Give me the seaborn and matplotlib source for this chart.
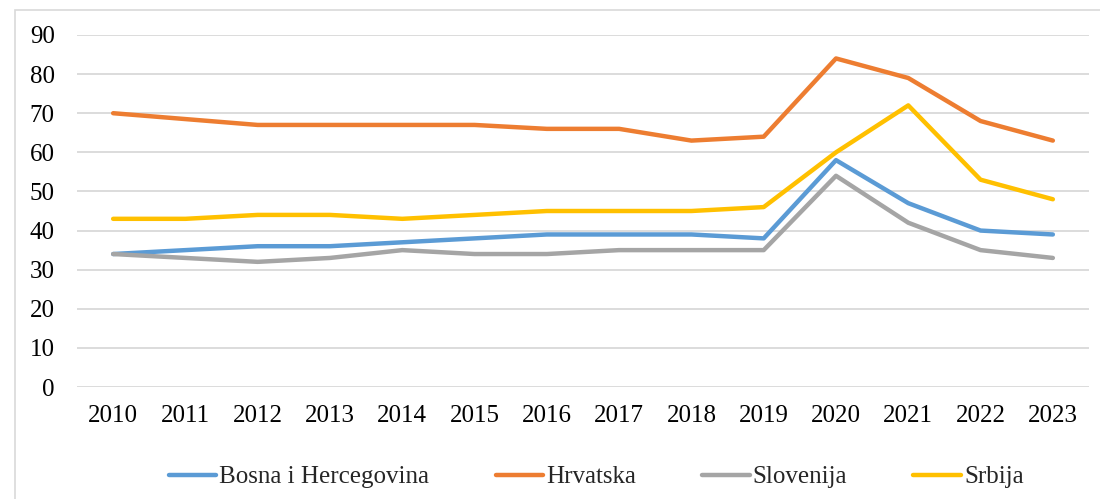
import pandas as pd
import matplotlib
matplotlib.use("Agg")
import matplotlib.pyplot as plt
import seaborn as sns

years = [str(y) for y in range(2010, 2024)]
bih = [34, 35, 36, 36, 37, 38, 39, 39, 39, 38, 58, 47, 40, 39]
hrv = [70, 68.5, 67, 67, 67, 67, 66, 66, 63, 64, 84, 79, 68, 63]
slo = [34, 33, 32, 33, 35, 34, 34, 35, 35, 35, 54, 42, 35, 33]
srb = [43, 43, 44, 44, 43, 44, 45, 45, 45, 46, 60, 72, 53, 48]
countries = ["Bosna i Hercegovina", "Hrvatska", "Slovenija", "Srbija"]
colors = ["#5B9BD5", "#ED7D31", "#A5A5A5", "#FFC000"]

df = pd.DataFrame({"Godina": years * 4,
                   "Vrijednost": bih + hrv + slo + srb,
                   "Zemlja": [c for c in countries for _ in years]})

sns.set_style("white")
plt.rcParams["font.family"] = ["Liberation Serif", "DejaVu Serif"]

fig = plt.figure(figsize=(11, 4.99), dpi=100)
ax = fig.add_axes([0.07, 0.2244, 0.92, 0.7055])

sns.lineplot(data=df, x="Godina", y="Vrijednost", hue="Zemlja",
             palette=colors, linewidth=3.2, sort=False, ax=ax)

ax.set_ylim(0, 90)
ax.set_xlim(-0.5, len(years) - 0.5)
ax.set_yticks(range(0, 91, 10))
ax.yaxis.grid(True, color="#D9D9D9", linewidth=1.3)
ax.set_axisbelow(True)
for s in ax.spines.values():
    s.set_visible(False)
ax.tick_params(axis="both", labelsize=18, length=0, colors="#000000")
ax.tick_params(axis="x", pad=13)
ax.tick_params(axis="y", pad=16)
ax.set_xlabel("")
ax.set_ylabel("")

ax.legend(loc="center", bbox_to_anchor=(0.513, -0.256), ncol=4, frameon=False,
          fontsize=18, handlelength=1.9, handletextpad=0.12, columnspacing=2.65,
          borderpad=0, borderaxespad=0)

# thin frame around the whole chart
fig.add_artist(plt.Rectangle((15 / 1100, -0.05), 1.1, 1 - 10 / 499 + 0.05,
                             transform=fig.transFigure, fill=False,
                             edgecolor="#D9D9D9", linewidth=1.2))

fig.savefig("out.png", dpi=100)
